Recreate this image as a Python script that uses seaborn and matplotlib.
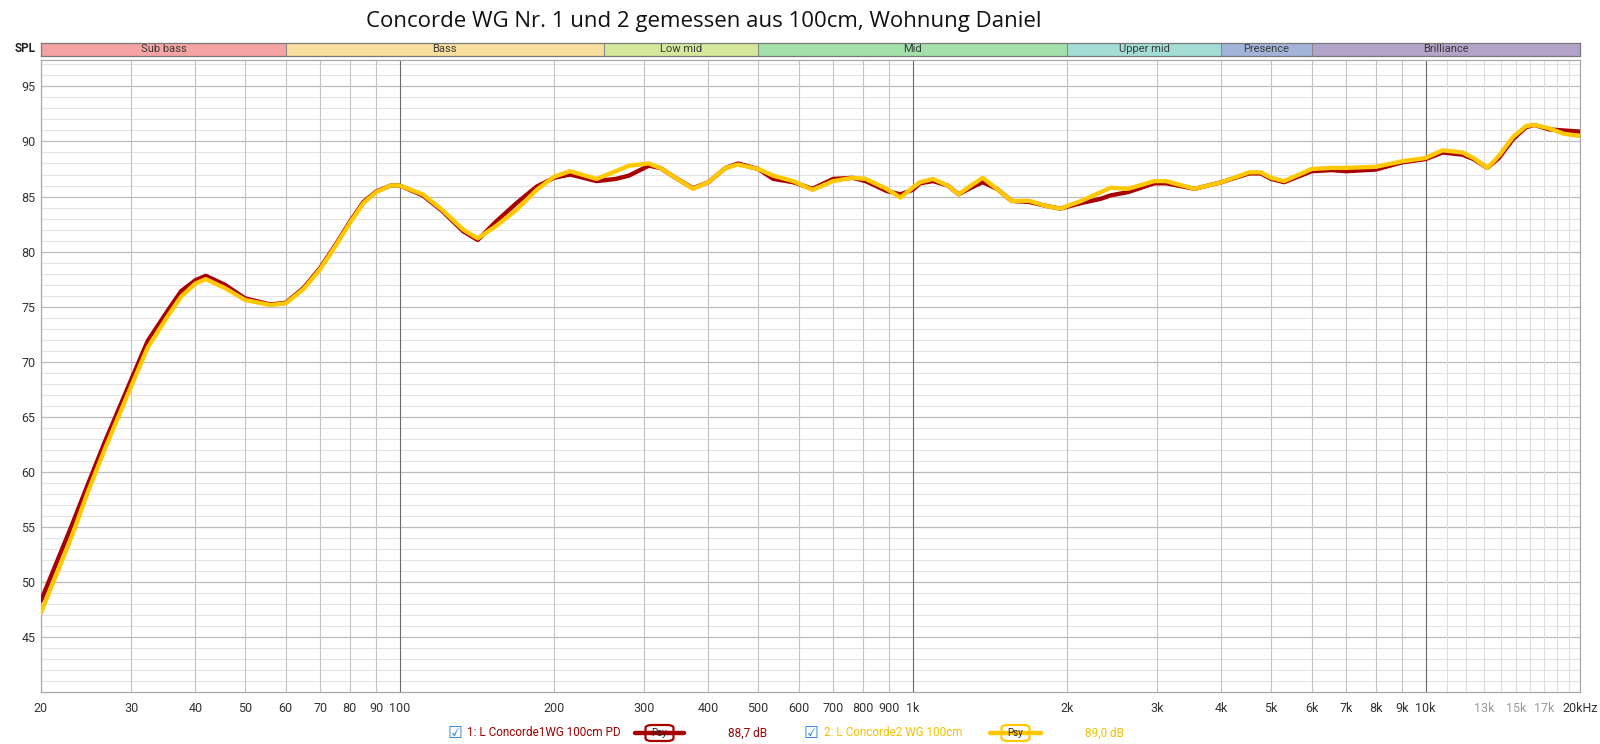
import pandas as pd
import seaborn as sns
import matplotlib.pyplot as plt
from matplotlib.lines import Line2D
from matplotlib.patches import FancyBboxPatch

# frequency response (Hz, dB SPL)
freq = [20, 22.9, 24.7, 26.6, 30, 32.3, 35.4, 37.5, 40, 41.9, 45.6, 50, 56, 60, 65, 70, 75, 80, 85, 90,
        96, 100, 111, 121, 133, 142, 154, 169, 185, 200, 215, 242, 264, 280, 306, 322, 345, 373, 400,
        432, 457, 500, 535, 585, 638, 700, 764, 810, 890, 947, 1000, 1034, 1096, 1170, 1230, 1300,
        1370, 1460, 1560, 1690, 1820, 1940, 2130, 2330, 2430, 2630, 2960, 3120, 3550, 4000, 4530,
        4770, 5000, 5300, 6000, 6560, 7000, 8000, 9000, 10000, 10800, 11800, 12400, 13200, 13900,
        14800, 15700, 16300, 17400, 18600, 20000]
wg1_db = [48.3, 55.0, 58.9, 62.65, 68.4, 71.9, 74.7, 76.4, 77.4, 77.8, 77.0, 75.75, 75.2, 75.35, 76.7,
          78.5, 80.6, 82.7, 84.5, 85.45, 86.0, 86.0, 85.1, 83.7, 81.85, 81.05, 82.7, 84.4, 85.9, 86.7,
          87.0, 86.4, 86.6, 86.9, 87.8, 87.6, 86.7, 85.75, 86.3, 87.6, 88.0, 87.5, 86.6, 86.3, 85.7,
          86.6, 86.7, 86.4, 85.5, 85.2, 85.6, 86.2, 86.4, 86.0, 85.2, 85.8, 86.3, 85.7, 84.6, 84.5,
          84.15, 83.9, 84.4, 84.8, 85.1, 85.4, 86.2, 86.2, 85.7, 86.3, 87.1, 87.1, 86.6, 86.3, 87.3,
          87.4, 87.3, 87.45, 88.1, 88.4, 89.0, 88.8, 88.4, 87.6, 88.5, 90.2, 91.3, 91.5, 91.1, 91.0, 90.9]
wg2_db = [47.2, 54.0, 58.2, 62.0, 67.8, 71.3, 74.2, 75.9, 77.1, 77.5, 76.7, 75.6, 75.15, 75.3, 76.6,
          78.4, 80.5, 82.6, 84.4, 85.4, 86.0, 86.0, 85.2, 83.8, 82.0, 81.2, 82.3, 83.8, 85.6, 86.8,
          87.3, 86.6, 87.3, 87.8, 88.0, 87.6, 86.7, 85.7, 86.3, 87.6, 87.9, 87.5, 86.9, 86.4, 85.6,
          86.4, 86.7, 86.6, 85.7, 84.9, 85.8, 86.3, 86.6, 86.0, 85.2, 86.0, 86.7, 85.7, 84.6, 84.6,
          84.15, 83.9, 84.6, 85.4, 85.8, 85.7, 86.4, 86.4, 85.7, 86.3, 87.2, 87.2, 86.7, 86.4, 87.5,
          87.6, 87.6, 87.7, 88.2, 88.5, 89.2, 89.0, 88.5, 87.6, 88.7, 90.4, 91.4, 91.5, 91.2, 90.7, 90.5]

names = ["1: L Concorde1WG 100cm PD", "2: L Concorde2 WG 100cm"]
colors = ["#A80000", "#FFC800"]
text_colors = ["#A00000", "#F2C200"]
avg_labels = ["88,7 dB", "89,0 dB"]

band_names = ["Sub bass", "Bass", "Low mid", "Mid", "Upper mid", "Presence", "Brilliance"]
band_edges = [20, 60, 250, 500, 2000, 4000, 6000, 20000]
band_colors = ["#F5A3A3", "#F8DF9E", "#D5E89C", "#A4E0A9", "#A3DDD5", "#A3B4DA", "#B3A3C8"]

tick_freqs = [20, 30, 40, 50, 60, 70, 80, 90, 100, 200, 300, 400, 500, 600, 700, 800, 900,
              1000, 2000, 3000, 4000, 5000, 6000, 7000, 8000, 9000, 10000, 13000, 15000, 17000, 20000]
tick_labels = ["20", "30", "40", "50", "60", "70", "80", "90", "100", "200", "300", "400", "500",
               "600", "700", "800", "900", "1k", "2k", "3k", "4k", "5k", "6k", "7k", "8k", "9k",
               "10k", "13k", "15k", "17k", "20kHz"]
grey_ticks = ["13k", "15k", "17k"]

title = "Concorde WG Nr. 1 und 2 gemessen aus 100cm, Wohnung Daniel"

df = pd.concat([
    pd.DataFrame({"freq": freq, "spl": wg1_db, "trace": names[0]}),
    pd.DataFrame({"freq": freq, "spl": wg2_db, "trace": names[1]}),
])

sns.set_style("white")
narrow = ["Liberation Sans Narrow", "Roboto", "DejaVu Sans"]
plt.rcParams["font.family"] = narrow

fig = plt.figure(figsize=(16, 7.44), dpi=100)
ax = fig.add_axes([41 / 1600, 52 / 744, 1539 / 1600, 632 / 744])

# grid
for db in range(41, 98):
    major = db % 5 == 0
    ax.axhline(db, color="#BDBDBD" if major else "#E3E3E3", lw=0.9 if major else 0.75, zorder=0)
for dec in [10, 100, 1000]:
    for m in range(2, 11):
        f = m * dec
        if f < 20 or f > 20000:
            continue
        c = "#6A6A6A" if m == 10 and f < 20000 else "#C4C4C4"
        ax.axvline(f, color=c, lw=0.8, zorder=0)
for f in range(11000, 20000, 1000):
    ax.axvline(f, color="#DEDEDE", lw=0.75, zorder=0)

sns.lineplot(data=df, x="freq", y="spl", hue="trace", palette=colors, hue_order=names,
             estimator=None, sort=False, lw=3.1, legend=False, ax=ax, zorder=3)

ax.set_xscale("log")
ax.set_xlim(20, 20000)
ax.set_ylim(40, 97.4)
ax.set_xticks(tick_freqs)
ax.set_xticklabels(tick_labels)
ax.minorticks_off()
ax.set_yticks(range(45, 100, 5))
ax.tick_params(axis="both", length=0, labelsize=9, colors="#333333")
ax.tick_params(axis="x", pad=7)
ax.tick_params(axis="y", pad=4)
for lab in ax.get_xticklabels():
    if lab.get_text() in grey_ticks:
        lab.set_color("#9A9A9A")
ax.set_xlabel("")
ax.set_ylabel("")
for side in ["left", "bottom", "top", "right"]:
    ax.spines[side].set_color("#A8A8A8")
    ax.spines[side].set_linewidth(0.9)

# frequency band bar
bax = fig.add_axes([41 / 1600, (744 - 56) / 744, 1539 / 1600, 13 / 744])
bax.set_xscale("log")
bax.set_xlim(20, 20000)
bax.set_ylim(0, 1)
for i, name in enumerate(band_names):
    lo, hi = band_edges[i], band_edges[i + 1]
    bax.axvspan(lo, hi, color=band_colors[i], lw=0)
    if i > 0:
        bax.axvline(lo, color="#8A8A8A", lw=0.8)
    bax.text((lo * hi) ** 0.5, 0.5, name, ha="center", va="center", fontsize=8, color="#3A3A3A")
bax.set_xticks([])
bax.set_yticks([])
bax.minorticks_off()
for side in bax.spines.values():
    side.set_color("#7A7A7A")
    side.set_linewidth(0.9)

fig.text(36 / 1600, 1 - 49 / 744, "SPL", ha="right", va="center", fontsize=8.5,
         color="#222222", fontweight="bold")
fig.text(704 / 1600, 1 - 21 / 744, title, ha="center", va="center", fontsize=16,
         family=["Open Sans", "DejaVu Sans"], color="#111111")

# bottom legend strip
ly = 1 - 733 / 744
checks = [455, 811]
text_x = [467, 824]
line_x = [(635, 684), (990, 1041)]
avg_x = [728, 1085]
for i in range(2):
    fig.text(checks[i] / 1600, ly, "\u2611", ha="center", va="center", fontsize=12,
             color="#2A7FD4", family=["DejaVu Sans"])
    fig.text(text_x[i] / 1600, ly, names[i], ha="left", va="center", fontsize=8.5, color=text_colors[i])
    x0, x1 = line_x[i]
    fig.add_artist(Line2D([x0 / 1600, x1 / 1600], [ly, ly], color=colors[i], lw=3.2,
                          transform=fig.transFigure))
    cx = (x0 + x1) / 2
    box = FancyBboxPatch(((cx - 14) / 1600, ly - 8 / 744), 28 / 1600, 16 / 744,
                         boxstyle="round,pad=0,rounding_size=0.004", transform=fig.transFigure,
                         facecolor="white", edgecolor=colors[i], lw=1.6)
    fig.add_artist(box)
    fig.text(cx / 1600, ly, "Psy", ha="center", va="center", fontsize=7, color="#222222")
    fig.text(avg_x[i] / 1600, ly, avg_labels[i], ha="left", va="center", fontsize=8.5, color=text_colors[i])

plt.savefig("out.png", dpi=100)
